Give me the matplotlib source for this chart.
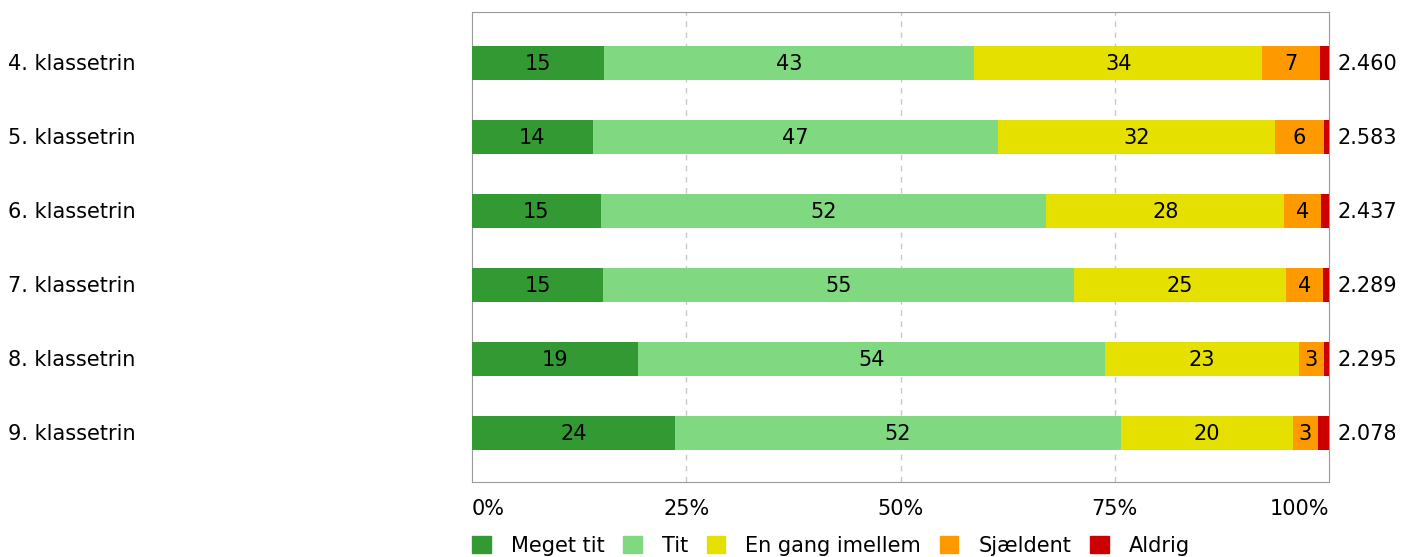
import matplotlib
matplotlib.use("Agg")
import matplotlib.pyplot as plt
import numpy as np
from matplotlib.patches import Patch

grades = ["4. klassetrin", "5. klassetrin", "6. klassetrin",
          "7. klassetrin", "8. klassetrin", "9. klassetrin"]
categories = ["Meget tit", "Tit", "En gang imellem", "Sjældent", "Aldrig"]
colors = ["#339933", "#80d980", "#e6e000", "#ff9900", "#cc0000"]

meget_tit = [15.4, 14.1, 15.0, 15.3, 19.4, 23.7]
tit = [43.2, 47.3, 52.0, 54.9, 54.5, 52.0]
en_gang = [33.6, 32.3, 27.8, 24.8, 22.6, 20.1]
sjaeldent = [6.8, 5.7, 4.3, 4.3, 2.9, 2.9]
aldrig = [1.0, 0.6, 0.9, 0.7, 0.6, 1.3]
means = ["2.460", "2.583", "2.437", "2.289", "2.295", "2.078"]

series = [meget_tit, tit, en_gang, sjaeldent, aldrig]

fig = plt.figure(figsize=(14.04, 5.57), dpi=100)
ax = fig.add_axes([472 / 1404, 1 - 482 / 557, 857 / 1404, 470 / 557])

y = np.arange(len(grades))
left = np.zeros(len(grades))
fs = 15
for vals, col in zip(series, colors):
    vals = np.array(vals)
    ax.barh(y, vals, left=left, height=0.46, color=col, zorder=3)
    for yi, l, v in zip(y, left, vals):
        if v >= 2.5:
            ax.text(l + v / 2, yi + 0.01, f"{round(v):d}", ha="center", va="center",
                    fontsize=fs, color="black", zorder=4)
    left += vals

ax.set_xlim(0, 100)
ax.set_ylim(5.66, -0.69)
ax.set_yticks([])
ax.set_xticks([0, 25, 50, 75, 100])
ax.set_xticklabels(["0%", "25%", "50%", "75%", "100%"], fontsize=fs)
labs = ax.get_xticklabels()
labs[0].set_ha("left")
labs[-1].set_ha("right")
ax.tick_params(axis="x", length=0, pad=12)
for xv in [25, 50, 75]:
    ax.axvline(xv, color="#c8c8c8", linestyle=(0, (4, 4)), linewidth=1, zorder=1)
for s in ax.spines.values():
    s.set_color("#999999")

for yi, g, m in zip(y, grades, means):
    ax.annotate(g, xy=(8 / 1404, yi + 0.01), xycoords=("figure fraction", "data"),
                ha="left", va="center", fontsize=fs)
    ax.text(101, yi + 0.01, m, ha="left", va="center", fontsize=fs)

handles = [Patch(color=c) for c in colors]
ax.legend(handles, categories, loc="upper left", bbox_to_anchor=(0, -0.1145),
          ncol=5, frameon=False, fontsize=fs, handlelength=0.9, handleheight=0.9,
          handletextpad=0.95, columnspacing=0.9, borderaxespad=0, borderpad=0)

fig.savefig("out.png", dpi=100)
